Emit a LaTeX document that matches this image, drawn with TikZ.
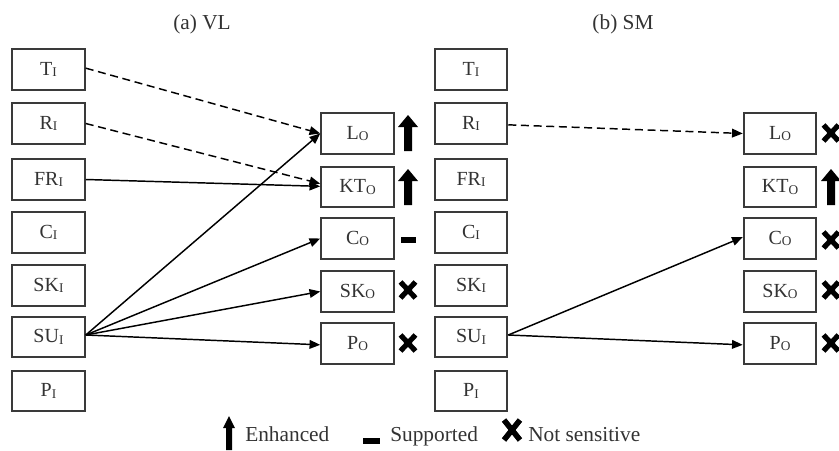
\documentclass[tikz,border=0pt]{standalone}
\usepackage{fontspec}
\setmainfont{Liberation Serif}
\usetikzlibrary{arrows.meta}
\definecolor{txt}{HTML}{333333}
\definecolor{bord}{HTML}{3A3A3A}
\newcommand\sbx[1]{\raisebox{-1.1pt}{\fontsize{10}{11}\selectfont #1}}
\tikzset{
  box/.style={draw=bord, line width=1.4pt, minimum width=54.5pt, minimum height=30.5pt,
    inner sep=0pt, text=txt, font=\fontsize{15}{17}\selectfont},
  conn/.style={line width=1.1pt, -{Triangle[length=8pt,width=6.5pt]}},
  dconn/.style={conn, dash pattern=on 6pt off 3.5pt},
  ttl/.style={text=txt, font=\fontsize{16}{19}\selectfont},
  lgd/.style={text=txt, font=\fontsize{16}{19}\selectfont, anchor=base west, inner sep=0pt},
  uparr/.pic={\fill (0,-18) -- (10,-6) -- (4,-6) -- (4,18) -- (-4,18) -- (-4,-6) -- (-10,-6) -- cycle;},
  xmark/.pic={\draw[line width=3.9pt] (-7.5,-8) -- (7.5,8) (-7.5,8) -- (7.5,-8);},
  minus/.pic={\fill (-7.5,-2.6) rectangle (7.5,2.6);}
}
\begin{document}
\begin{tikzpicture}[x=0.75pt,y=-0.75pt]
\useasboundingbox (0,0) rectangle (839,450);
% titles
\node[ttl] (ta) at (202,24) {(a) VL};
\node[ttl] (tb) at (623,24) {(b) SM};
% (a) inputs
\node[box] (aT)  at (48.5,69.5)  {T\sbx{I}};
\node[box] (aR)  at (48.5,123.5) {R\sbx{I}};
\node[box] (aFR) at (48.5,179.5) {FR\sbx{I}};
\node[box] (aC)  at (48.5,232.5) {C\sbx{I}};
\node[box] (aSK) at (48.5,285.5) {SK\sbx{I}};
\node[box] (aSU) at (48.5,337)   {SU\sbx{I}};
\node[box] (aP)  at (48.5,391)   {P\sbx{I}};
% (a) outputs
\node[box] (aLo)  at (357.5,133.5) {L\sbx{O}};
\node[box] (aKTo) at (357.5,187)   {KT\sbx{O}};
\node[box] (aCo)  at (357.5,238.5) {C\sbx{O}};
\node[box] (aSKo) at (357.5,291.5) {SK\sbx{O}};
\node[box] (aPo)  at (357.5,343.5) {P\sbx{O}};
% (b) inputs
\node[box] (bT)  at (471,69.5)  {T\sbx{I}};
\node[box] (bR)  at (471,123.5) {R\sbx{I}};
\node[box] (bFR) at (471,179.5) {FR\sbx{I}};
\node[box] (bC)  at (471,232.5) {C\sbx{I}};
\node[box] (bSK) at (471,285.5) {SK\sbx{I}};
\node[box] (bSU) at (471,337)   {SU\sbx{I}};
\node[box] (bP)  at (471,391)   {P\sbx{I}};
% (b) outputs
\node[box] (bLo)  at (780,133.5) {L\sbx{O}};
\node[box] (bKTo) at (780,187)   {KT\sbx{O}};
\node[box] (bCo)  at (780,238.5) {C\sbx{O}};
\node[box] (bSKo) at (780,291.5) {SK\sbx{O}};
\node[box] (bPo)  at (780,343.5) {P\sbx{O}};
% (a) connectors
\draw[dconn] ([yshift=1pt]aT.east) -- (aLo.west);
\draw[dconn] (aR.east) -- ([yshift=2.5pt]aKTo.west);
\draw[conn] (aFR.east) -- ([yshift=0.5pt]aKTo.west);
\draw[conn] ([yshift=1.5pt]aSU.east) -- (aLo.west);
\draw[conn] ([yshift=1.5pt]aSU.east) -- (aCo.west);
\draw[conn] ([yshift=1.5pt]aSU.east) -- (aSKo.west);
\draw[conn] ([yshift=1.5pt]aSU.east) -- ([yshift=-1pt]aPo.west);
% (b) connectors
\draw[dconn] ([yshift=-1pt]bR.east) -- (bLo.west);
\draw[conn] ([yshift=1.5pt]bSU.east) -- ([yshift=1pt]bCo.west);
\draw[conn] ([yshift=1.5pt]bSU.east) -- ([yshift=-1pt]bPo.west);
% (a) symbols
\pic at (408,133) {uparr};
\pic at (408,187) {uparr};
\pic at (408,240) {minus};
\pic at (408,290) {xmark};
\pic at (408,343) {xmark};
% (b) symbols
\pic at (831,133) {xmark};
\pic at (831,187) {uparr};
\pic at (831,240) {xmark};
\pic at (831,290) {xmark};
\pic at (831,343) {xmark};
% legend
\fill (229,416) -- (235,428) -- (232,428) -- (232,450) -- (226,450) -- (226,428) -- (223,428) -- cycle;
\node[lgd] (le) at (245,441) {Enhanced};
\fill (363,438) rectangle (380,443.5);
\node[lgd] (ls) at (390,441) {Supported};
\draw[line width=4.2pt] (504,420) -- (520,440) (504,440) -- (520,420);
\node[lgd] (ln) at (528,441) {Not sensitive};
\end{tikzpicture}
\end{document}
